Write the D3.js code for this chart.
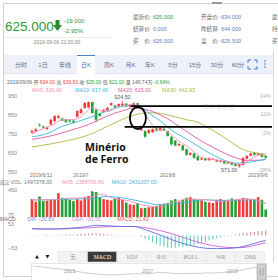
<!DOCTYPE html>
<html>
<head>
<meta charset="utf-8">
<script src="https://cdn.jsdelivr.net/npm/d3@7"></script>
<style>
  html, body { margin: 0; padding: 0; background: #fff; }
  svg { display: block; font-family: "Liberation Sans", "Noto Sans CJK SC", sans-serif; }
</style>
</head>
<body>
<div id="chart"></div>
<script>
// daily candles, 2019/6/12 .. 2019/9/6
var opens  = [758,765,800,790,776,800,818,835,832,828, 822,820,840,860,887,890,918,878,860,865,
              875,902,900,895,900,910,893,898,912,770, 765,755,760,780,768,778,765,735,715,690,
              690,670,640,648,632,615,622,612,615,605, 604,608,595,600,592,580,588,620,635,652,
              640,645,634];
var closes = [767,775,795,784,785,825,845,845,820,812, 815,810,871,880,913,918,860,825,845,878,
              888,913,890,908,910,895,905,912,895,778, 735,772,775,768,782,768,740,695,690,698,
              665,640,650,625,612,622,612,622,620,612, 610,595,602,588,582,590,625,635,648,640,
              648,629,625];
var highs  = [772,782,806,796,790,830,850,852,836,830, 828,824,875,888,918,922,920,880,862,882,
              892,916,904,912,924.5,914,908,916,915,785, 770,776,780,784,786,782,768,740,718,702,
              694,672,655,650,636,626,625,626,624,616, 613,610,605,602,595,594,628,640,652,656,
              652,648,639.5];
var lows   = [752,760,788,780,770,796,812,830,818,808, 810,805,838,855,882,885,858,810,840,860,
              870,898,886,892,896,890,888,895,890,765, 730,750,755,762,765,764,736,690,684,686,
              660,636,636,620,608,612,608,608,612,602, 600,592,590,585,578,571,584,618,632,636,
              636,626,621];
// volume in 10k lots
var volumes = [310,270,350,280,285,300,310,400,330,320, 300,280,310,290,340,360,430,420,340,310,
               300,290,320,330,300,260,230,220,250,170, 175,185,190,205,230,240,250,290,310,270,
               300,330,340,310,300,290,270,260,250,300, 310,290,300,320,300,310,330,320,300,310,
               340,300,150];

// moving averages: [candle index, value]
var ma5Pts  = [[0,750],[2,770],[4,785],[6,803],[8,825],[10,825],[12,830],[14,858],[16,890],[18,875],[20,868],
               [22,885],[24,900],[26,902],[28,903],[29,880],[30,855],[31,825],[33,775],[35,770],[37,745],
               [39,712],[41,688],[43,655],[45,628],[47,618],[49,614],[51,607],[53,598],[55,590],[57,605],
               [59,630],[61,640],[62,636.6]];
var ma10Pts = [[0,735],[4,752],[8,790],[12,815],[15,834],[19,865],[22,885],[26,900],[28,900],[31,860],
               [34,820],[37,770],[40,735],[44,687],[47,650],[50,620],[53,600],[55,596],[58,603],[60,610],[62,617.45]];
var ma20Pts = [[0,722],[5,740],[10,768],[15,800],[20,845],[24,872],[27,887],[30,880],[33,860],[36,830],
               [39,790],[42,750],[45,712],[48,680],[51,650],[54,625],[57,612],[60,612],[62,615]];
var ma30Pts = [[0,682],[5,698],[10,718],[15,745],[20,790],[25,835],[29,858],[32,862],[35,855],[38,840],
               [41,825],[44,812],[47,780],[50,745],[53,705],[56,668],[59,652],[62,642.93]];

var volMa5Pts  = [[0,300],[5,300],[10,325],[15,330],[18,385],[22,320],[26,280],[30,210],[34,195],[38,270],
                  [42,310],[46,300],[50,275],[54,300],[58,310],[62,239]];
var volMa10Pts = [[0,295],[5,300],[10,310],[15,315],[20,350],[25,320],[30,260],[34,220],[38,235],[42,270],
                  [46,300],[50,290],[54,290],[58,300],[62,243]];

var difPts = [[0,30],[5,28],[10,32],[14,38],[17,45],[20,43],[24,40],[27,40],[29,32],[31,20],[34,2],[37,-18],
              [40,-35],[43,-48],[46,-56],[49,-58],[52,-57],[55,-52],[58,-40],[60,-30],[62,-20.83]];
var deaPts = [[0,30],[5,29],[10,30],[15,34],[20,39],[25,40],[28,39],[31,32],[34,22],[37,8],[40,-8],[43,-24],
              [46,-38],[49,-47],[52,-53],[55,-54],[58,-48],[60,-40],[62,-31.55]];
var macdHist = [2,1,1,2,3,2,1,2,3,4, 5,4,6,7,8,9,10,11,9,7, 5,4,3,2,1,2,2,1,1,
                -6,-14,-22,-30,-38,-44,-50,-54,-56,-54, -52,-50,-48,-46,-42,-38,-34,-28,-22,-16,
                -12,-8,-4,-2,2,5,8,11,13,15, 17,19,20,21.43];

var priceTicks = [950, 850, 750, 650, 550];
var pctTicks = [24, 11, -2, -28];
var volTicks = [450, 75];
var macdTicks = [53, -53];
var dateLabels = ["2019/6/12", "2019/7", "2019/8", "2019/9/6"];
var dateIdx = [0, 13, 36, 62];

var tabNames = ["分时","1日","年线","日K","周K","月K","年K","5分","15分","30分","60分"];
var indNames = ["无","MACD","KDJ","RSI","BOLL","WR","DMI"];
var overviewVals = [820,790,740,700,650,600,540,480,440,410,400,420,440,470,450,480,520,500,
                    470,460,480,470,500,490,520,560,600,680,760,700];
var overviewYears = ["2015","2017","2019"];
var overviewYearPos = [0.16, 0.5, 0.87];

// the two price levels marked by hand, and the circled gap
var gapLevels = [897, 787];
var gapStartIdx = [26.2, 24.6];
var gapCircle = [28.1, 834];

var UP = "#f23b3b", DOWN = "#24a033";
var C5 = "#f48fb6", C10 = "#39b6d9", C20 = "#e2559a", C30 = "#adb93a";

var svg = d3.select("#chart").append("svg").attr("width", 278).attr("height", 280);

var x = d3.scaleLinear().domain([0, closes.length - 1]).range([32, 265.7]);
var y = d3.scaleLinear().domain([550, 950]).range([172, 96]);
var yPct = d3.scaleLinear().domain([-28, 24]).range([169.5, 95.7]);
var yVol = d3.scaleLinear().domain([0, 450]).range([219.3, 190]);
var yMacd = d3.scaleLinear().domain([-53, 53]).range([247.5, 223.5]);

// ---------- frame ----------
svg.append("rect").attr("x", 3.5).attr("y", 3.5).attr("width", 280).attr("height", 273)
  .attr("fill", "none").attr("stroke", "#cfcfcf");
svg.append("rect").attr("x", 212).attr("y", 2).attr("width", 10).attr("height", 2).attr("fill", "#999");
svg.append("line").attr("x1", 273.5).attr("x2", 273.5).attr("y1", 50).attr("y2", 262)
  .attr("stroke", "#d8d8d8");

// ---------- header ----------
svg.append("text").attr("x", 5).attr("y", 31).attr("font-size", 13.5).attr("fill", "#2f9a3b")
  .text("625.000");
svg.append("path").attr("d", "M55.5,20 h4 v5 h2.5 l-4.5,6 l-4.5,-6 h2.5 z").attr("fill", "#2f8a2f");
svg.append("text").attr("x", 64).attr("y", 23).attr("font-size", 6).attr("fill", "#2f9a3b").text("-19.000");
svg.append("text").attr("x", 64).attr("y", 32.5).attr("font-size", 6).attr("fill", "#2f9a3b").text("-2.95%");
svg.append("line").attr("x1", 4).attr("x2", 112).attr("y1", 37.5).attr("y2", 37.5).attr("stroke", "#eee");
svg.append("text").attr("x", 57).attr("y", 44).attr("font-size", 5).attr("fill", "#888")
  .attr("text-anchor", "middle").text("2019-09-06 21:00:00");

// third column is only partly on screen in the original
var infoRows = [
  [["最新价: ", "625.000", "#2f9a3b"], ["开盘价: ", "634.000", "#5b7fbf"], ["最", "", "#5b7fbf"]],
  [["结算价: ", "0.000", "#5b7fbf"], ["昨结算: ", "644.000", "#5b7fbf"], ["持", "", "#5b7fbf"]],
  [["买　价: ", "625.000", "#5b7fbf"], ["卖　价: ", "625.500", "#5b7fbf"], ["买", "", "#5b7fbf"]]
];
var infoX = [133, 201, 272];
infoRows.forEach(function(row, r) {
  row.forEach(function(cell, c) {
    var t = svg.append("text").attr("x", infoX[c]).attr("y", 18.5 + r * 12).attr("font-size", 5.6);
    t.append("tspan").attr("fill", "#666").text(cell[0]);
    if (cell[1]) t.append("tspan").attr("fill", cell[2]).text(cell[1]);
  });
});

// ---------- period tabs ----------
svg.append("rect").attr("x", 4).attr("y", 55).attr("width", 269).attr("height", 18).attr("fill", "#eef2f8");
svg.append("line").attr("x1", 4).attr("x2", 273).attr("y1", 73.5).attr("y2", 73.5).attr("stroke", "#dce3ee");
var tabX = [21, 43, 65, 86, 109, 130.5, 150, 173, 195, 217, 238];
svg.append("rect").attr("x", 77).attr("y", 55).attr("width", 18).attr("height", 19).attr("fill", "#fff");
svg.append("line").attr("x1", 77).attr("x2", 95).attr("y1", 55.5).attr("y2", 55.5).attr("stroke", "#4a7fd0");
svg.selectAll("text.tab").data(tabNames).enter().append("text")
  .attr("class", "tab")
  .attr("x", function(d, i) { return tabX[i]; })
  .attr("y", 66.5)
  .attr("text-anchor", "middle")
  .attr("font-size", 6)
  .attr("fill", function(d) { return d == "日K" ? "#3b6fc4" : "#5d6e88"; })
  .text(function(d) { return d; });
// full screen icon + menu dots
svg.append("path").attr("d", "M248,63 v-3 h3 M254,60 h3 v3 M257,66 v3 h-3 M251,69 h-3 v-3")
  .attr("fill", "none").attr("stroke", "#3a78d0").attr("stroke-width", 1);
[61, 64, 67].forEach(function(cy) {
  svg.append("circle").attr("cx", 265).attr("cy", cy).attr("r", 0.8).attr("fill", "#3a6bb8");
});

// ---------- info line + MA legend ----------
var info = svg.append("text").attr("x", 7).attr("y", 83.5).attr("font-size", 5);
[["2019/09/06 开 ", "#666"], ["634.00", UP], [" 高 ", "#666"], ["639.50", UP], [" 收 ", "#666"],
 ["625.00", DOWN], [" 低 ", "#666"], ["621.00", DOWN], [" 量 149.74万 ", "#666"], ["-0.64%", DOWN]]
  .forEach(function(p) { info.append("tspan").attr("fill", p[1]).text(p[0]); });

var maLegend = [["MA5: 636.60", C5, 32], ["MA10: 617.45", C10, 75], ["MA20: 615.00", C20, 118], ["MA30: 642.93", C30, 162]];
maLegend.forEach(function(m) {
  svg.append("text").attr("x", m[2]).attr("y", 91.5).attr("font-size", 5.3).attr("fill", m[1]).text(m[0]);
});

// ---------- price panel ----------
function styleAxis(g) {
  g.select(".domain").remove();
  g.selectAll("line").remove();
  g.selectAll("text").attr("font-size", 5.5).attr("fill", "#8a8a8a")
    .attr("font-family", "Liberation Sans, sans-serif");
}
svg.append("g").attr("transform", "translate(8,0)")
  .call(d3.axisRight(y).tickValues(priceTicks).tickSize(0).tickPadding(0).tickFormat(d3.format("d")))
  .call(styleAxis);
svg.append("g").attr("transform", "translate(271,0)")
  .call(d3.axisLeft(yPct).tickValues(pctTicks).tickSize(0).tickPadding(0).tickFormat(function(d) { return d + "%"; }))
  .call(styleAxis)
  .selectAll("text").attr("fill", "#b0b0b0");

// watermark
svg.append("circle").attr("cx", 206).attr("cy", 106.5).attr("r", 2.6).attr("fill", "none")
  .attr("stroke", "#e0e0e0").attr("stroke-width", 0.8);
svg.append("text").attr("x", 210).attr("y", 109).attr("font-size", 6).attr("fill", "#e2e2e2").text("新浪财经");

var bw = 2.6;
function col(i) { return closes[i] >= opens[i] ? UP : DOWN; }

var candles = svg.append("g");
candles.selectAll("line").data(closes).enter().append("line")
  .attr("x1", function(d, i) { return x(i); })
  .attr("x2", function(d, i) { return x(i); })
  .attr("y1", function(d, i) { return y(highs[i]); })
  .attr("y2", function(d, i) { return y(lows[i]); })
  .attr("stroke", function(d, i) { return col(i); })
  .attr("stroke-width", 0.7);
candles.selectAll("rect").data(closes).enter().append("rect")
  .attr("x", function(d, i) { return x(i) - bw / 2; })
  .attr("y", function(d, i) { return y(Math.max(opens[i], d)); })
  .attr("width", bw)
  .attr("height", function(d, i) { return Math.max(0.8, Math.abs(y(opens[i]) - y(d))); })
  .attr("fill", function(d, i) { return col(i); });

var maLine = d3.line().x(function(d) { return x(d[0]); }).y(function(d) { return y(d[1]); }).curve(d3.curveMonotoneX);
[[ma30Pts, C30], [ma20Pts, C20], [ma10Pts, C10], [ma5Pts, C5]].forEach(function(m) {
  svg.append("path").attr("d", maLine(m[0])).attr("fill", "none").attr("stroke", m[1]).attr("stroke-width", 0.9);
});

// high / low marks
var hiIdx = highs.indexOf(d3.max(highs)), loIdx = lows.indexOf(d3.min(lows));
svg.append("text").attr("x", x(hiIdx)).attr("y", y(highs[hiIdx]) - 2).attr("font-size", 5.3)
  .attr("text-anchor", "middle").attr("fill", "#555").text(d3.format(".2f")(highs[hiIdx]));
svg.append("text").attr("x", x(loIdx) - 2).attr("y", y(lows[loIdx]) + 3.5).attr("font-size", 5.3)
  .attr("text-anchor", "end").attr("fill", "#555").text(d3.format(".2f")(lows[loIdx]));

// date labels
svg.selectAll("text.date").data(dateLabels).enter().append("text")
  .attr("class", "date")
  .attr("x", function(d, i) { return i == 0 ? x(dateIdx[i]) - 2 : (i == dateLabels.length - 1 ? x(dateIdx[i]) + 2 : x(dateIdx[i])); })
  .attr("y", 177.3)
  .attr("font-size", 5)
  .attr("fill", "#777")
  .attr("text-anchor", function(d, i) { return i == 0 ? "start" : (i == dateLabels.length - 1 ? "end" : "middle"); })
  .text(function(d) { return d; });

// annotation: the gap between the two levels
gapLevels.forEach(function(lv, i) {
  svg.append("line").attr("x1", x(gapStartIdx[i])).attr("x2", 272).attr("y1", y(lv)).attr("y2", y(lv))
    .attr("stroke", "#000").attr("stroke-width", 1.8);
});
svg.append("ellipse").attr("cx", x(gapCircle[0])).attr("cy", y(gapCircle[1])).attr("rx", 8).attr("ry", 11)
  .attr("fill", "none").attr("stroke", "#000").attr("stroke-width", 1.8);
var note = svg.append("text").attr("x", 85).attr("y", 151).attr("font-size", 10.5).attr("font-weight", "bold")
  .attr("font-family", "Open Sans, sans-serif").attr("fill", "#111");
note.append("tspan").attr("x", 85).text("Minério");
note.append("tspan").attr("x", 85).attr("dy", 12).text("de Ferro");

// ---------- volume panel ----------
svg.append("text").attr("x", 0).attr("y", 184).attr("font-size", 4.8).attr("fill", "#777").text("成交");
var volHead = svg.append("text").attr("x", 10.5).attr("y", 184).attr("font-size", 5.3);
volHead.append("tspan").attr("fill", "#777").text("VOL: 1497378.00");
volHead.append("tspan").attr("fill", C5).attr("dx", 10).text("MA5: 2388706.80");
volHead.append("tspan").attr("fill", C10).attr("dx", 8).text("MA10: 2431037.00");

svg.append("g").attr("transform", "translate(8,0)")
  .call(d3.axisRight(yVol).tickValues(volTicks).tickSize(0).tickPadding(0))
  .call(styleAxis);

svg.append("g").selectAll("rect").data(volumes).enter().append("rect")
  .attr("x", function(d, i) { return x(i) - bw / 2; })
  .attr("y", function(d) { return yVol(d); })
  .attr("width", bw)
  .attr("height", function(d) { return 217 - yVol(d); })
  .attr("fill", function(d, i) { return col(i); });

var volLine = d3.line().x(function(d) { return x(d[0]); }).y(function(d) { return yVol(d[1]); }).curve(d3.curveMonotoneX);
svg.append("path").attr("d", volLine(volMa10Pts)).attr("fill", "none").attr("stroke", C10).attr("stroke-width", 0.9);
svg.append("path").attr("d", volLine(volMa5Pts)).attr("fill", "none").attr("stroke", C5).attr("stroke-width", 0.9);

// ---------- MACD panel ----------
var macdHead = svg.append("text").attr("x", 0).attr("y", 221.3).attr("font-size", 5.3);
macdHead.append("tspan").attr("fill", "#666").text("MACD");
macdHead.append("tspan").attr("fill", "#8080e0").attr("dx", 12).text("DIF: -20.83");
macdHead.append("tspan").attr("fill", "#d585d8").attr("dx", 18).text("DEA: -31.55");
macdHead.append("tspan").attr("fill", "#e05555").attr("dx", 16).text("MACD: 21.43");

svg.append("g").attr("transform", "translate(8,0)")
  .call(d3.axisRight(yMacd).tickValues(macdTicks).tickSize(0).tickPadding(0))
  .call(styleAxis);

svg.append("defs").append("clipPath").attr("id", "macdClip")
  .append("rect").attr("x", 25).attr("y", 222).attr("width", 250).attr("height", 28);
var macdG = svg.append("g").attr("clip-path", "url(#macdClip)");
macdG.selectAll("rect").data(macdHist).enter().append("rect")
  .attr("x", function(d, i) { return x(i) - 0.6; })
  .attr("y", function(d) { return yMacd(Math.max(0, d)); })
  .attr("width", 1.2)
  .attr("height", function(d) { return Math.abs(yMacd(d) - yMacd(0)); })
  .attr("fill", function(d) { return d >= 0 ? "#d49a8f" : "#6fcfc4"; });
var macdLine = d3.line().x(function(d) { return x(d[0]); }).y(function(d) { return yMacd(d[1]); }).curve(d3.curveMonotoneX);
macdG.append("path").attr("d", macdLine(deaPts)).attr("fill", "none").attr("stroke", "#d660d8").attr("stroke-width", 0.9);
macdG.append("path").attr("d", macdLine(difPts)).attr("fill", "none").attr("stroke", "#5a6ee0").attr("stroke-width", 0.9);

// ---------- indicator tabs ----------
svg.append("path").attr("d", "M35,258.5 l2,-3.5 l2,3.5 z M45.5,255 l4,0 l-2,3.5 z").attr("fill", "#222");
var indW = 29.6;
var ind = svg.append("g").selectAll("g").data(indNames).enter().append("g")
  .attr("transform", function(d, i) { return "translate(" + (58 + i * indW) + ",251.5)"; });
ind.append("rect").attr("width", indW - 0.6).attr("height", 10.5)
  .attr("fill", function(d) { return d == "MACD" ? "#3a3a3a" : "#f3f3f3"; })
  .attr("stroke", "#dedede").attr("stroke-width", 0.5);
ind.append("text").attr("x", indW / 2).attr("y", 7.6).attr("text-anchor", "middle")
  .attr("font-size", 5.8).attr("font-family", "Liberation Serif, Noto Sans CJK SC, serif")
  .attr("fill", function(d) { return d == "MACD" ? "#fff" : "#999"; })
  .text(function(d) { return d; });

// ---------- overview strip ----------
svg.append("rect").attr("x", 31.5).attr("y", 263.5).attr("width", 235).attr("height", 17)
  .attr("fill", "#fff").attr("stroke", "#d6d6d6").attr("stroke-width", 0.6);
var ox = d3.scaleLinear().domain([0, overviewVals.length - 1]).range([33, 262]);
var oy = d3.scaleLinear().domain([350, 900]).range([276, 264.5]);
svg.append("path").attr("d", d3.line().x(function(d, i) { return ox(i); }).y(function(d) { return oy(d); })(overviewVals))
  .attr("fill", "none").attr("stroke", "#aaa").attr("stroke-width", 0.6);
svg.selectAll("text.year").data(overviewYears).enter().append("text")
  .attr("class", "year")
  .attr("x", function(d, i) { return 33 + overviewYearPos[i] * 229; })
  .attr("y", 273).attr("font-size", 5).attr("fill", "#999").attr("text-anchor", "middle")
  .text(function(d) { return d; });
svg.append("rect").attr("x", 257).attr("y", 264).attr("width", 9).attr("height", 16)
  .attr("fill", "#cfcfcf").attr("stroke", "#999").attr("stroke-width", 0.5);
svg.append("path").attr("d", "M260,268 v8 M263,268 v8").attr("stroke", "#888").attr("stroke-width", 0.6);
</script>
</body>
</html>
